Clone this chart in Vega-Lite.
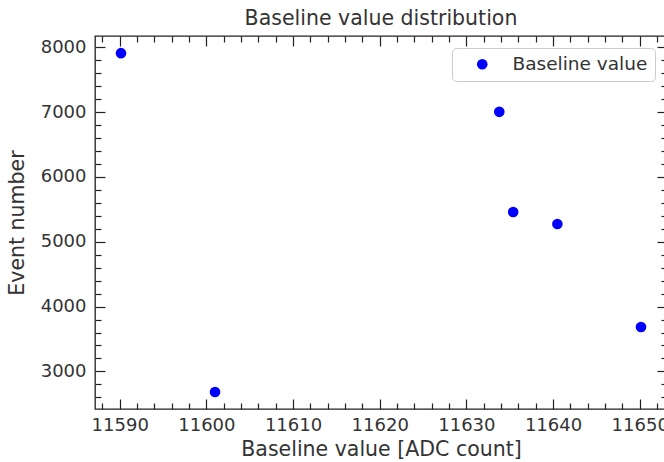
{
  "$schema": "https://vega.github.io/schema/vega-lite/v6.json",
  "autosize": "none",
  "padding": {"left": 95, "top": 36, "right": 0, "bottom": 53},
  "width": 572,
  "height": 373,
  "title": {"text": "Baseline value distribution", "fontSize": 20.5, "fontWeight": "normal", "color": "#333", "offset": 6, "font": "DejaVu Sans"},
  "config": {
    "font": "DejaVu Sans",
    "view": {"stroke": "#222", "strokeWidth": 1.3},
    "axis": {"grid": false, "domain": false, "labelColor": "#333", "titleColor": "#333", "tickColor": "#222", "tickWidth": 1.2}
  },
  "data": {"values": [
    {"baseline": 11590.15, "event": 7910, "series": "Baseline value"},
    {"baseline": 11601.0, "event": 2682, "series": "Baseline value"},
    {"baseline": 11633.8, "event": 7005, "series": "Baseline value"},
    {"baseline": 11635.4, "event": 5460, "series": "Baseline value"},
    {"baseline": 11640.5, "event": 5275, "series": "Baseline value"},
    {"baseline": 11650.15, "event": 3685, "series": "Baseline value"}
  ]},
  "resolve": {"axis": {"x": "independent", "y": "independent"}},
  "layer": [
    {
      "mark": {"type": "point", "filled": true, "shape": "circle", "size": 113, "opacity": 1},
      "encoding": {
        "x": {"field": "baseline", "type": "quantitative", "scale": {"domain": [11587.15, 11653.15], "nice": false, "zero": false},
          "axis": {"orient": "bottom", "ticks": false, "values": [11590, 11600, 11610, 11620, 11630, 11640, 11650], "format": "d", "labelFontSize": 18, "labelPadding": 7, "title": "Baseline value [ADC count]", "titleFontSize": 20.5, "titleFontWeight": "normal", "titlePadding": 5}},
        "y": {"field": "event", "type": "quantitative", "scale": {"domain": [2420, 8175], "nice": false, "zero": false},
          "axis": {"orient": "left", "ticks": false, "values": [3000, 4000, 5000, 6000, 7000, 8000], "format": "d", "labelFontSize": 18, "labelPadding": 9, "title": "Event number", "titleFontSize": 20.5, "titleFontWeight": "normal", "titlePadding": 13}},
        "color": {"field": "series", "type": "nominal", "scale": {"range": ["#0000ff"]},
          "legend": {"title": null, "orient": "none", "legendX": 357, "legendY": 12, "padding": 7, "strokeColor": "#ccc", "cornerRadius": 4, "fillColor": "white", "symbolType": "circle", "symbolSize": 113, "symbolOffset": 14, "labelOffset": 21, "labelFontSize": 18.5, "labelColor": "#333"}}
      }
    },
    {
      "mark": {"type": "point", "opacity": 0},
      "encoding": {
        "x": {"field": "baseline", "type": "quantitative", "scale": {"domain": [11587.15, 11653.15], "nice": false, "zero": false},
          "axis": {"orient": "bottom", "labels": false, "title": null, "tickSize": -10, "values": [11590, 11600, 11610, 11620, 11630, 11640, 11650]}},
        "y": {"field": "event", "type": "quantitative", "scale": {"domain": [2420, 8175], "nice": false, "zero": false},
          "axis": {"orient": "left", "labels": false, "title": null, "tickSize": -10, "values": [3000, 4000, 5000, 6000, 7000, 8000]}}
      }
    },
    {
      "mark": {"type": "point", "opacity": 0},
      "encoding": {
        "x": {"field": "baseline", "type": "quantitative", "scale": {"domain": [11587.15, 11653.15], "nice": false, "zero": false},
          "axis": {"orient": "bottom", "labels": false, "title": null, "tickSize": -6, "values": [11588, 11592, 11594, 11596, 11598, 11602, 11604, 11606, 11608, 11612, 11614, 11616, 11618, 11622, 11624, 11626, 11628, 11632, 11634, 11636, 11638, 11642, 11644, 11646, 11648, 11652]}},
        "y": {"field": "event", "type": "quantitative", "scale": {"domain": [2420, 8175], "nice": false, "zero": false},
          "axis": {"orient": "left", "labels": false, "title": null, "tickSize": -6, "values": [2600, 2800, 3200, 3400, 3600, 3800, 4200, 4400, 4600, 4800, 5200, 5400, 5600, 5800, 6200, 6400, 6600, 6800, 7200, 7400, 7600, 7800]}}
      }
    },
    {
      "mark": {"type": "point", "opacity": 0},
      "encoding": {
        "x": {"field": "baseline", "type": "quantitative", "scale": {"domain": [11587.15, 11653.15], "nice": false, "zero": false},
          "axis": {"orient": "top", "labels": false, "title": null, "tickSize": -10, "values": [11590, 11600, 11610, 11620, 11630, 11640, 11650]}},
        "y": {"field": "event", "type": "quantitative", "scale": {"domain": [2420, 8175], "nice": false, "zero": false},
          "axis": {"orient": "right", "labels": false, "title": null, "tickSize": -10, "values": [3000, 4000, 5000, 6000, 7000, 8000]}}
      }
    },
    {
      "mark": {"type": "point", "opacity": 0},
      "encoding": {
        "x": {"field": "baseline", "type": "quantitative", "scale": {"domain": [11587.15, 11653.15], "nice": false, "zero": false},
          "axis": {"orient": "top", "labels": false, "title": null, "tickSize": -6, "values": [11588, 11592, 11594, 11596, 11598, 11602, 11604, 11606, 11608, 11612, 11614, 11616, 11618, 11622, 11624, 11626, 11628, 11632, 11634, 11636, 11638, 11642, 11644, 11646, 11648, 11652]}},
        "y": {"field": "event", "type": "quantitative", "scale": {"domain": [2420, 8175], "nice": false, "zero": false},
          "axis": {"orient": "right", "labels": false, "title": null, "tickSize": -6, "values": [2600, 2800, 3200, 3400, 3600, 3800, 4200, 4400, 4600, 4800, 5200, 5400, 5600, 5800, 6200, 6400, 6600, 6800, 7200, 7400, 7600, 7800]}}
      }
    }
  ]
}
